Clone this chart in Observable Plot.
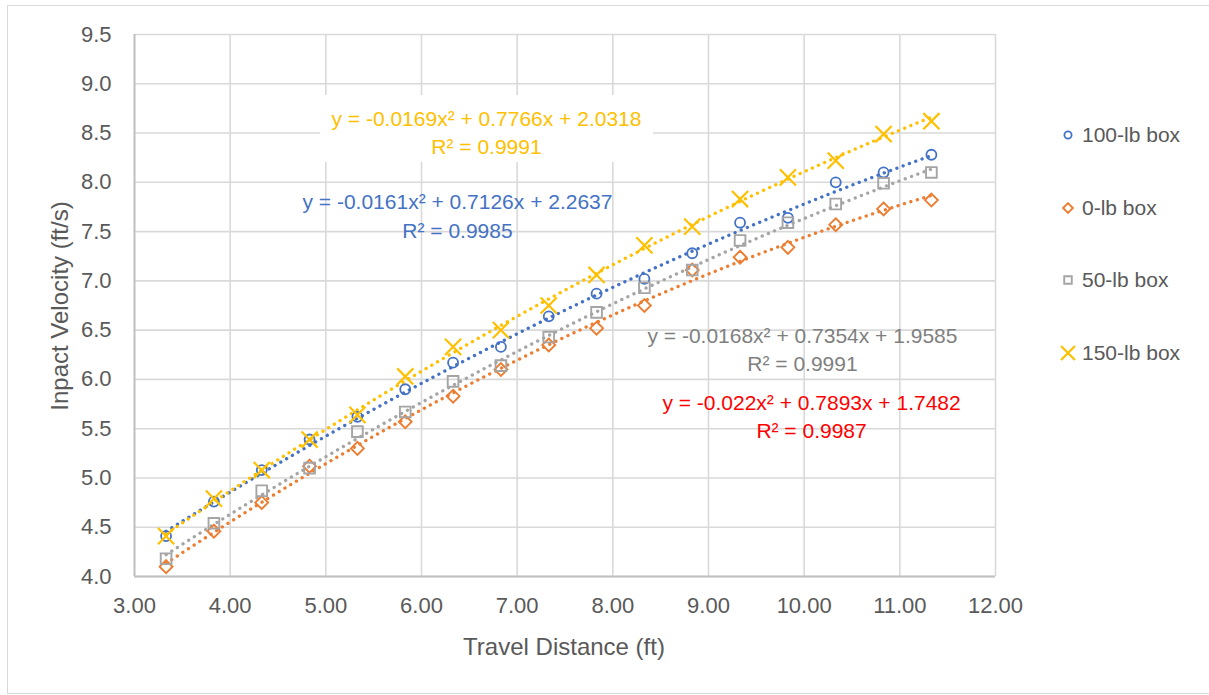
<!DOCTYPE html>
<html>
<head>
<meta charset="utf-8">
<script src="https://cdn.jsdelivr.net/npm/d3@7"></script>
<script src="https://cdn.jsdelivr.net/npm/@observablehq/plot@0.6"></script>
<style>
  body { margin: 0; background: #fff; font-family: "Liberation Sans", Arial, sans-serif; }
  #wrap { position: relative; width: 1209px; height: 695px; overflow: hidden; background: #fff; }
  #frame { position: absolute; left: 7px; top: 5px; width: 1215px; height: 689px; border: 1px solid #d9d9d9; box-sizing: border-box; }
  #chart { position: absolute; left: 0; top: 0; }
  .title { position: absolute; color: #595959; font-size: 24px; white-space: nowrap; }
  #ytitle { left: 60px; top: 306px; transform: translate(-50%, -50%) rotate(-90deg); }
  #xtitle { left: 564px; top: 647px; transform: translate(-50%, -50%); }
  #legend { position: absolute; left: 1058px; top: 0; }
  .item { position: absolute; left: 0; display: flex; align-items: center; color: #595959; font-size: 21px; white-space: nowrap; transform: translateY(-50%); }
  .item svg { margin-right: 4px; }
</style>
</head>
<body>
<div id="wrap">
  <div id="frame"></div>
  <div id="chart"></div>
  <div class="title" id="ytitle">Inpact Velocity (ft/s)</div>
  <div class="title" id="xtitle">Travel Distance (ft)</div>
  <div id="legend"></div>
</div>
<script>
// ---- data ----
const distance = [3.33, 3.83, 4.33, 4.83, 5.33, 5.83, 6.33, 6.83, 7.33, 7.83, 8.33, 8.83, 9.33, 9.83, 10.33, 10.83, 11.33];
const box100 = [4.41, 4.76, 5.08, 5.39, 5.62, 5.90, 6.17, 6.33, 6.64, 6.87, 7.02, 7.28, 7.59, 7.64, 8.00, 8.10, 8.28];
const box0   = [4.10, 4.46, 4.75, 5.12, 5.30, 5.57, 5.83, 6.10, 6.35, 6.52, 6.75, 7.11, 7.24, 7.34, 7.57, 7.73, 7.82];
const box50  = [4.18, 4.54, 4.87, 5.10, 5.47, 5.67, 5.98, 6.14, 6.43, 6.68, 6.93, 7.11, 7.41, 7.59, 7.78, 7.99, 8.10];
const box150 = [4.41, 4.79, 5.08, 5.39, 5.64, 6.03, 6.33, 6.50, 6.75, 7.06, 7.36, 7.55, 7.83, 8.05, 8.22, 8.49, 8.62];

const seriesNames  = ["100-lb box", "0-lb box", "50-lb box", "150-lb box"];
const seriesValues = [box100, box0, box50, box150];
const seriesColors = ["#4472C4", "#ED7D31", "#A5A5A5", "#FFC000"];
const seriesSymbols = ["circle", "diamond2", "square2", "times"];

// polynomial trendline coefficients (y = a x^2 + b x + c) and R^2 as shown
const trendA = [-0.0161, -0.022, -0.0168, -0.0169];
const trendB = [0.7126, 0.7893, 0.7354, 0.7766];
const trendC = [2.2637, 1.7482, 1.9585, 2.0318];
const trendR2 = ["0.9985", "0.9987", "0.9991", "0.9991"];
const trendTextColors = ["#4472C4", "#FF0000", "#7F7F7F", "#FFC000"];
const trendLabels = [
  "y = -0.0161x² + 0.7126x + 2.2637",
  "y = -0.022x² + 0.7893x + 1.7482",
  "y = -0.0168x² + 0.7354x + 1.9585",
  "y = -0.0169x² + 0.7766x + 2.0318"
];
// label anchor positions in data space
const labelX = [6.376, 10.077, 9.982, 6.679];
const labelY = [7.673, 5.639, 6.319, 8.521];

const xTicks = [3, 4, 5, 6, 7, 8, 9, 10, 11, 12];
const yTicks = [4.0, 4.5, 5.0, 5.5, 6.0, 6.5, 7.0, 7.5, 8.0, 8.5, 9.0, 9.5];

// ---- build tables ----
const points = seriesNames.map((name, i) => distance.map((d, j) => ({series: name, x: d, y: seriesValues[i][j]})));
const xs = d3.range(distance[0], distance[distance.length - 1] + 0.001, 0.05);
const curves = seriesNames.map((name, i) => xs.map(x => ({series: name, x, y: trendA[i] * x * x + trendB[i] * x + trendC[i]})));
const labels = seriesNames.map((name, i) => ({
  x: labelX[i], y: labelY[i], text: trendLabels[i] + "\nR² = " + trendR2[i], color: trendTextColors[i]
}));

const symbolR = {circle: 5.0, diamond2: 5.8, square2: 6.8, times: 7.4};
const symbolW = {circle: 1.8, diamond2: 1.9, square2: 1.9, times: 2.2};

const chart = Plot.plot({
  width: 1209,
  height: 695,
  marginLeft: 134,
  marginRight: 214,
  marginTop: 34,
  marginBottom: 119,
  style: {fontFamily: '"Liberation Sans", Arial, sans-serif', fontSize: "22px", color: "#595959", background: "transparent", overflow: "visible"},
  x: {domain: [xTicks[0], xTicks[xTicks.length - 1]], ticks: xTicks, tickFormat: d => d.toFixed(2), label: null, tickSize: 0, tickPadding: 21},
  y: {domain: [yTicks[0], yTicks[yTicks.length - 1]], ticks: yTicks, tickFormat: d => d.toFixed(1), label: null, tickSize: 0, tickPadding: 23},
  marks: [
    Plot.gridX(xTicks, {stroke: "#d9d9d9", strokeOpacity: 1, strokeWidth: 1.6}),
    Plot.gridY(yTicks, {stroke: "#d9d9d9", strokeOpacity: 1, strokeWidth: 1.6}),
    Plot.ruleX([xTicks[0]], {stroke: "#bfbfbf", strokeWidth: 1.8}),
    Plot.ruleY([yTicks[0]], {stroke: "#bfbfbf", strokeWidth: 1.8}),
    // white box behind the 150-lb equation
    Plot.rect([{x1: 4.944, x2: 8.425, y1: 8.201, y2: 8.881}], {x1: "x1", x2: "x2", y1: "y1", y2: "y2", fill: "white"}),
    ...curves.map((c, i) => Plot.line(c, {x: "x", y: "y", stroke: seriesColors[i], strokeWidth: 3.3, strokeDasharray: "0.1 6.6", strokeLinecap: "round", curve: "linear"})),
    ...points.map((p, i) => Plot.dot(p, {x: "x", y: "y", symbol: seriesSymbols[i], r: symbolR[seriesSymbols[i]], stroke: seriesColors[i], strokeWidth: symbolW[seriesSymbols[i]], fill: "none"})),
    Plot.text(labels, {x: "x", y: "y", text: "text", fill: "color", fontSize: 21, lineHeight: 1.36, lineAnchor: "middle", textAnchor: "middle"})
  ]
});
document.getElementById("chart").appendChild(chart);

// ---- legend ----
const legendY = [135, 208, 280, 353];
const legend = document.getElementById("legend");
seriesNames.forEach((name, i) => {
  const item = document.createElement("div");
  item.className = "item";
  item.style.top = legendY[i] + "px";
  const sym = seriesSymbols[i];
  const sz = {circle: 3.6, diamond2: 4.4, square2: 4.8, times: 6.4}[sym];
  const symType = {circle: d3.symbolCircle, diamond2: d3.symbolDiamond2, square2: d3.symbolSquare2, times: d3.symbolTimes}[sym];
  const path = d3.symbol(symType, Math.PI * sz * sz)();
  item.innerHTML = `<svg width="20" height="20" viewBox="-10 -10 20 20"><path d="${path}" fill="none" stroke="${seriesColors[i]}" stroke-width="${symbolW[sym]}"/></svg><span>${name}</span>`;
  legend.appendChild(item);
});
</script>
</body>
</html>
